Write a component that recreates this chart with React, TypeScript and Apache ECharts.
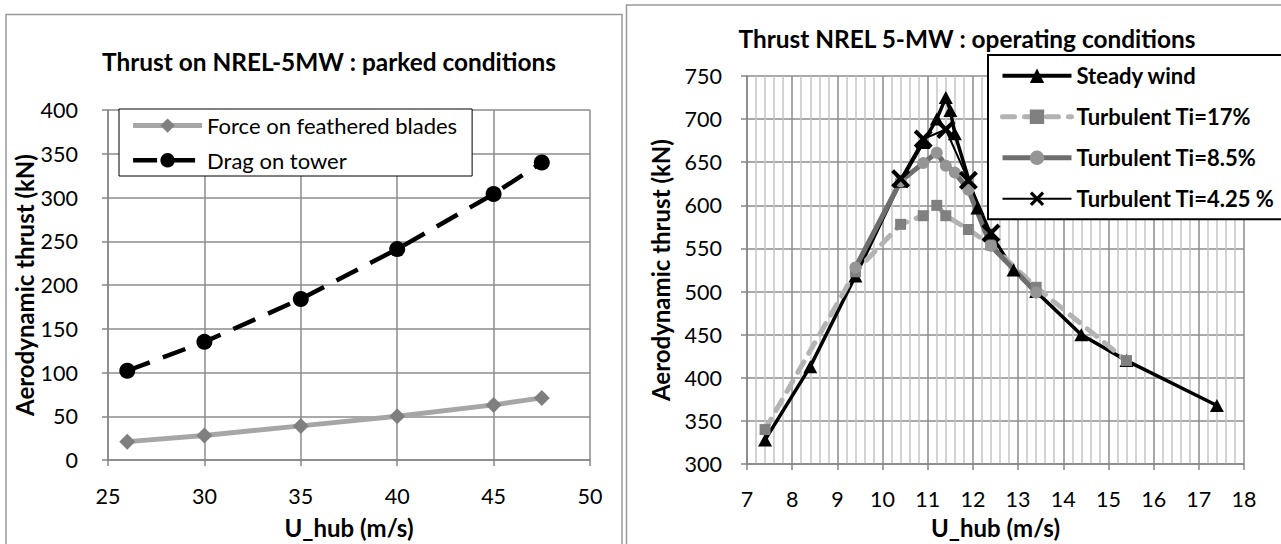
import React, { useEffect, useRef } from 'react';
import * as echarts from 'echarts';

// ---- Parked conditions ----
const parkedSpeeds = [26, 30, 35, 40, 45, 47.5];
const bladeForce = [21, 28, 39, 50, 63, 71];
const towerDrag = [102, 135, 184, 241, 304, 340];

// ---- Operating conditions ----
const steadyU = [7.4, 8.4, 9.4, 10.4, 10.9, 11.2, 11.4, 11.5, 11.6, 12.1, 12.4, 12.9, 13.4, 14.4, 15.4, 17.4];
const steadyT = [328, 413, 518, 628, 673, 700, 725, 710, 683, 597, 566, 525, 500, 450, 420, 368];
const ti17U = [7.4, 9.4, 10.4, 10.9, 11.2, 11.4, 11.9, 12.4, 13.4, 15.4];
const ti17T = [340, 523, 578, 588, 600, 588, 572, 554, 505, 420];
const ti85U = [9.4, 10.4, 10.9, 11.2, 11.4, 11.6, 11.9, 12.4, 13.4];
const ti85T = [528, 628, 649, 661, 646, 638, 618, 553, 499];
const ti425U = [10.4, 10.9, 11.4, 11.9, 12.4];
const ti425T = [631, 677, 688, 629, 568];

const titleLeft = 'Thrust on NREL-5MW : parked conditions';
const titleRight = 'Thrust NREL 5-MW : operating conditions';
const xName = 'U_hub (m/s)';
const yName = 'Aerodynamic thrust (kN)';

const FONT = "Lato, 'Open Sans', sans-serif";
const X_MARK = 'path://M0,2.5L2.5,0L8,5.5L13.5,0L16,2.5L10.5,8L16,13.5L13.5,16L8,10.5L2.5,16L0,13.5L5.5,8Z';

const zip = (xs: number[], ys: number[]) => xs.map((x, i) => [x, ys[i]]);

const axisColor = '#868686';
const gridColor = '#8c8c8c';
const TICK_FS = 21.5;
const NAME_FS = 24;

function xAxisCfg(gridIndex: number, min: number, max: number, interval: number, nameGap: number, labelMargin: number, minor: boolean) {
  return {
    type: 'value',
    gridIndex,
    min,
    max,
    interval,
    name: xName,
    nameLocation: 'middle',
    nameGap,
    nameTextStyle: { fontFamily: FONT, fontWeight: 'bold', fontSize: NAME_FS, color: '#000' },
    axisLine: { show: true, onZero: false, lineStyle: { color: axisColor, width: 1.5 } },
    axisTick: { show: true, length: 6, lineStyle: { color: axisColor, width: 1.5 } },
    axisLabel: { margin: labelMargin, fontFamily: FONT, fontSize: TICK_FS, color: '#000' },
    splitLine: { show: true, lineStyle: { color: gridColor, width: 1.5 } },
    minorTick: { show: false, splitNumber: 5 },
    minorSplitLine: { show: minor, lineStyle: { color: '#c4c4c4', width: 1.5 } },
  };
}

function yAxisCfg(gridIndex: number, min: number, max: number, interval: number, nameGap: number, labelMargin: number) {
  return {
    type: 'value',
    gridIndex,
    min,
    max,
    interval,
    name: yName,
    nameLocation: 'middle',
    nameGap,
    nameRotate: 90,
    nameTextStyle: { fontFamily: FONT, fontWeight: 'bold', fontSize: NAME_FS, color: '#000' },
    axisLine: { show: true, onZero: false, lineStyle: { color: axisColor, width: 1.5 } },
    axisTick: { show: true, length: 6, lineStyle: { color: axisColor, width: 1.5 } },
    axisLabel: { margin: labelMargin, fontFamily: FONT, fontSize: TICK_FS, color: '#000' },
    splitLine: { show: true, lineStyle: { color: gridColor, width: 1.5 } },
  };
}

export default function App() {
  const ref = useRef<HTMLDivElement>(null);

  useEffect(() => {
    if (!ref.current) return;
    const chart = echarts.init(ref.current, undefined, { renderer: 'svg' });

    const option = {
      animation: false,
      backgroundColor: '#fff',
      grid: [
        { left: 108, top: 110, width: 482, height: 352 },
        { left: 747, top: 76, width: 497, height: 397 },
      ],
      xAxis: [
        xAxisCfg(0, 25, 50, 5, 55, 25, false),
        xAxisCfg(1, 7, 18, 1, 46, 24, true),
      ],
      yAxis: [
        yAxisCfg(0, 0, 400, 50, 65, 30),
        yAxisCfg(1, 300, 750, 50, 75, 25),
      ],
      legend: [
        {
          orient: 'vertical',
          left: 119,
          top: 109,
          itemWidth: 69,
          itemHeight: 18,
          itemGap: 12.7,
          padding: [5.6, 15, 4.7, 11.6],
          borderColor: '#000',
          borderWidth: 1,
          backgroundColor: '#fff',
          selectedMode: false,
          textStyle: { fontFamily: FONT, fontSize: 22, color: '#000', lineHeight: 22 },
          data: [
            { name: 'Force on feathered blades', itemStyle: { color: '#7f7f7f' }, lineStyle: { color: '#a6a6a6', width: 5 } },
            { name: 'Drag on tower', itemStyle: { color: '#000' }, lineStyle: { color: '#000', width: 4.5 } },
          ],
        },
        {
          orient: 'vertical',
          left: 988,
          top: 55,
          itemWidth: 69,
          itemHeight: 18,
          itemGap: 19,
          padding: [9.8, 40, 9.5, 12],
          borderColor: '#000',
          borderWidth: 2,
          backgroundColor: '#fff',
          selectedMode: false,
          textStyle: { fontFamily: FONT, fontSize: 22, fontWeight: 'bold', color: '#000', lineHeight: 22 },
          data: [
            { name: 'Steady wind', itemStyle: { color: '#000' }, lineStyle: { color: '#000', width: 4 } },
            { name: 'Turbulent Ti=17%', itemStyle: { color: '#808080' }, lineStyle: { color: '#b3b3b3', width: 5 } },
            { name: 'Turbulent Ti=8.5%', itemStyle: { color: '#959595' }, lineStyle: { color: '#6e6e6e', width: 5 } },
            { name: 'Turbulent Ti=4.25 %', itemStyle: { color: '#000' }, lineStyle: { color: '#000', width: 2 } },
          ],
        },
      ],
      series: [
        {
          type: 'line',
          name: 'Force on feathered blades',
          xAxisIndex: 0,
          yAxisIndex: 0,
          data: zip(parkedSpeeds, bladeForce),
          symbol: 'diamond',
          symbolSize: [16, 16],
          lineStyle: { color: '#a6a6a6', width: 5 },
          itemStyle: { color: '#7f7f7f' },
        },
        {
          type: 'line',
          name: 'Drag on tower',
          xAxisIndex: 0,
          yAxisIndex: 0,
          data: zip(parkedSpeeds, towerDrag),
          symbol: 'circle',
          symbolSize: 16,
          lineStyle: { color: '#000', width: 4.5, type: [24, 14] },
          itemStyle: { color: '#000' },
        },
        {
          type: 'line',
          name: 'Steady wind',
          xAxisIndex: 1,
          yAxisIndex: 1,
          data: zip(steadyU, steadyT),
          symbol: 'triangle',
          symbolSize: [14, 13],
          lineStyle: { color: '#000', width: 3.5 },
          itemStyle: { color: '#000' },
        },
        {
          type: 'line',
          name: 'Turbulent Ti=17%',
          xAxisIndex: 1,
          yAxisIndex: 1,
          data: zip(ti17U, ti17T),
          symbol: 'rect',
          symbolSize: 11,
          lineStyle: { color: '#b3b3b3', width: 5, type: [12, 10], cap: 'round' },
          itemStyle: { color: '#808080' },
        },
        {
          type: 'line',
          name: 'Turbulent Ti=8.5%',
          xAxisIndex: 1,
          yAxisIndex: 1,
          data: zip(ti85U, ti85T),
          symbol: 'circle',
          symbolSize: 12,
          lineStyle: { color: '#6e6e6e', width: 5 },
          itemStyle: { color: '#959595' },
        },
        {
          type: 'line',
          name: 'Turbulent Ti=4.25 %',
          xAxisIndex: 1,
          yAxisIndex: 1,
          data: zip(ti425U, ti425T),
          symbol: X_MARK,
          symbolSize: 19,
          lineStyle: { color: '#000', width: 2 },
          itemStyle: { color: '#000' },
        },
      ],
      graphic: [
        {
          type: 'rect',
          silent: true,
          shape: { x: 6, y: 14.5, width: 616, height: 560 },
          style: { fill: 'none', stroke: '#9a9a9a', lineWidth: 1.5 },
        },
        {
          type: 'rect',
          silent: true,
          shape: { x: 626.5, y: 5, width: 700, height: 560 },
          style: { fill: 'none', stroke: '#9a9a9a', lineWidth: 1.5 },
        },
        {
          type: 'text',
          x: 329,
          y: 61,
          style: { text: titleLeft, fontFamily: FONT, fontWeight: 'bold', fontSize: 24.4, fill: '#000', align: 'center', verticalAlign: 'middle' },
        },
        {
          type: 'text',
          x: 967,
          y: 38,
          style: { text: titleRight, fontFamily: FONT, fontWeight: 'bold', fontSize: 24.4, fill: '#000', align: 'center', verticalAlign: 'middle' },
        },
      ],
    };

    chart.setOption(option as any);
    return () => chart.dispose();
  }, []);

  return (
    <div
      ref={ref}
      style={{ position: 'fixed', left: 0, top: 0, width: 1281, height: 544, background: '#fff' }}
    />
  );
}
